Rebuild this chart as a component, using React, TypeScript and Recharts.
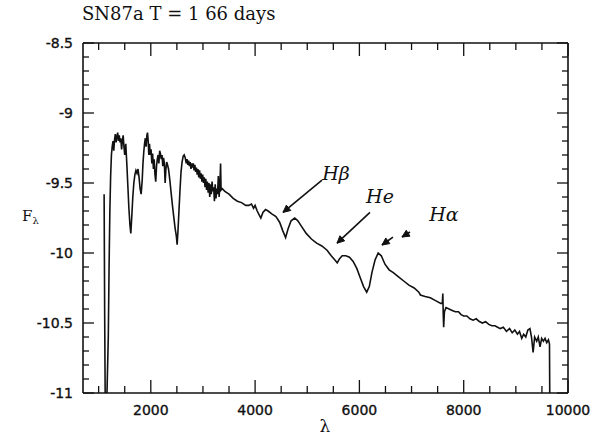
import React from "react";
import { LineChart, Line, XAxis, YAxis, ReferenceLine, ReferenceDot } from "recharts";

// wavelength (Angstrom) and log flux
const WAVELENGTH = [
  1105, 1115, 1125, 1160, 1185, 1200, 1215, 1230, 1245, 1260, 1275, 1290, 1305, 1320, 1335, 1350,
  1365, 1380, 1395, 1410, 1425, 1440, 1455, 1470, 1485, 1500, 1520, 1540, 1560, 1580, 1600, 1617,
  1635, 1655, 1675, 1695, 1715, 1735, 1755, 1775, 1795, 1815, 1835, 1850, 1865, 1880, 1895, 1910,
  1925, 1937, 1950, 1962, 1975, 1990, 2005, 2020, 2035, 2050, 2065, 2080, 2095, 2110, 2125, 2140,
  2155, 2170, 2185, 2200, 2215, 2230, 2245, 2260, 2275, 2290, 2305, 2320, 2340, 2365, 2390, 2415,
  2440, 2465, 2490, 2505, 2520, 2540, 2560, 2580, 2600, 2620, 2640, 2660, 2680, 2695, 2710, 2725,
  2740, 2755, 2770, 2785, 2800, 2815, 2830, 2845, 2860, 2875, 2890, 2905, 2920, 2935, 2950, 2965,
  2980, 2995, 3010, 3025, 3040, 3055, 3070, 3085, 3100, 3115, 3130, 3145, 3160, 3175, 3190, 3205,
  3220, 3235, 3250, 3265, 3280, 3295, 3310, 3325, 3338, 3348, 3370, 3420, 3500, 3580, 3660, 3740,
  3820, 3880, 3930, 3970, 4000, 4040, 4080, 4110, 4150, 4200, 4250, 4320, 4400, 4470, 4530, 4585,
  4630, 4690, 4760, 4820, 4890, 4980, 5080, 5180, 5280, 5380, 5460, 5530, 5575, 5620, 5670, 5740,
  5810, 5880, 5950, 6020, 6080, 6140, 6190, 6240, 6300, 6360, 6420, 6490, 6570, 6650, 6750, 6850,
  6950, 7050, 7140, 7170, 7260, 7360, 7460, 7560, 7590, 7600, 7608, 7616, 7630, 7660, 7720, 7780,
  7840, 7900, 7950, 8000, 8060, 8120, 8180, 8240, 8300, 8360, 8420, 8480, 8540, 8600, 8650, 8700,
  8760, 8820, 8880, 8930, 8980, 9030, 9070, 9113, 9150, 9190, 9230, 9270, 9300, 9331, 9360, 9400,
  9430, 9464, 9495, 9528, 9560, 9592, 9625, 9645, 9650,
];

const FLUX = [
  -9.58, -10.4, -11.0, -11.0, -10.6, -10.1, -9.7, -9.45, -9.3, -9.24, -9.2, -9.27, -9.19, -9.15, -9.21, -9.17,
  -9.14, -9.2, -9.16, -9.21, -9.18, -9.26, -9.2, -9.16, -9.24, -9.3, -9.22, -9.36, -9.52, -9.68, -9.8, -9.86,
  -9.74, -9.6, -9.5, -9.44, -9.41, -9.43, -9.4, -9.46, -9.54, -9.58, -9.48, -9.36, -9.28, -9.22, -9.18, -9.24,
  -9.16, -9.14, -9.2, -9.3, -9.22, -9.3, -9.26, -9.36, -9.29, -9.4, -9.33, -9.44, -9.49, -9.38, -9.33, -9.3,
  -9.36, -9.27, -9.29, -9.33, -9.3, -9.38, -9.32, -9.36, -9.5, -9.4, -9.35, -9.37, -9.4, -9.48, -9.57, -9.66,
  -9.74, -9.82, -9.88, -9.94, -9.85, -9.7, -9.55, -9.42, -9.35, -9.31, -9.3, -9.32, -9.36, -9.33, -9.37, -9.34,
  -9.38, -9.35, -9.4, -9.36, -9.39, -9.36, -9.41, -9.37, -9.42, -9.39, -9.44, -9.4, -9.46, -9.41, -9.47, -9.43,
  -9.49, -9.44, -9.5, -9.46, -9.53, -9.47, -9.55, -9.49, -9.57, -9.5, -9.6, -9.51, -9.58, -9.49, -9.56, -9.53,
  -9.63, -9.51, -9.61, -9.54, -9.58, -9.45, -9.6, -9.52, -9.36, -9.55, -9.54, -9.56, -9.58, -9.61, -9.63, -9.64,
  -9.66, -9.66, -9.65, -9.68, -9.66, -9.7, -9.73, -9.75, -9.71, -9.69, -9.7, -9.72, -9.74, -9.78, -9.84, -9.89,
  -9.83, -9.77, -9.75, -9.77, -9.81, -9.86, -9.9, -9.93, -9.95, -9.98, -10.02, -10.05, -10.07, -10.04, -10.02, -10.02,
  -10.03, -10.06, -10.11, -10.18, -10.24, -10.28, -10.24, -10.14, -10.05, -10.0, -10.02, -10.08, -10.12, -10.14, -10.17, -10.2,
  -10.23, -10.25, -10.28, -10.3, -10.31, -10.32, -10.34, -10.36, -10.36, -10.29, -10.44, -10.53, -10.42, -10.39, -10.4, -10.41,
  -10.42, -10.42, -10.44, -10.45, -10.45, -10.47, -10.48, -10.47, -10.49, -10.5, -10.49, -10.51, -10.52, -10.52, -10.53, -10.54,
  -10.53, -10.56, -10.54, -10.57, -10.55, -10.58, -10.56, -10.61, -10.58, -10.6, -10.55, -10.54, -10.6, -10.71, -10.6, -10.63,
  -10.6, -10.67, -10.61, -10.63, -10.61, -10.64, -10.62, -10.65, -11.0,
];

const X_TICKS = [1000, 1500, 2000, 2500, 3000, 3500, 4000, 4500, 5000, 5500, 6000, 6500, 7000, 7500, 8000, 8500, 9000, 9500, 10000];
const X_LABELS = [2000, 4000, 6000, 8000, 10000];
const Y_TICKS = [
  -11, -10.9, -10.8, -10.7, -10.6, -10.5, -10.4, -10.3, -10.2, -10.1, -10, -9.9, -9.8, -9.7, -9.6, -9.5,
  -9.4, -9.3, -9.2, -9.1, -9, -8.9, -8.8, -8.7, -8.6, -8.5,
];

const NOTES = [
  { text: "Hβ", x: 5551, y: -9.43 },
  { text: "He", x: 6395, y: -9.59 },
  { text: "Hα", x: 7622, y: -9.72 },
];
const ARROWS = [
  { x1: 5283, y1: -9.48, x2: 4535, y2: -9.71 },
  { x1: 6203, y1: -9.71, x2: 5571, y2: -9.93 },
  { x1: 6644, y1: -9.886, x2: 6433, y2: -9.943 },
  { x1: 6970, y1: -9.85, x2: 6817, y2: -9.886 },
];

const data = WAVELENGTH.map((w, i) => ({ wl: w, flux: FLUX[i] }));

const INK = "#111";
const tickFont = { fontFamily: "DejaVu Sans", fontSize: 14, fill: INK, stroke: INK, strokeWidth: 0.35 };

const isYMajor = (v: number) => Math.abs(v * 2 - Math.round(v * 2)) < 1e-6;

const BottomTick = (props: any) => {
  const { x, y, payload } = props;
  const major = X_LABELS.includes(payload.value);
  return (
    <g>
      <line x1={x} y1={y} x2={x} y2={y - (major ? 13 : 7)} stroke={INK} strokeWidth={1.3} />
      {major && (
        <text x={x} y={y + 22} textAnchor="middle" {...tickFont}>
          {payload.value}
        </text>
      )}
    </g>
  );
};

const TopTick = (props: any) => {
  const { x, y, payload } = props;
  const major = X_LABELS.includes(payload.value);
  return <line x1={x} y1={y} x2={x} y2={y + (major ? 13 : 7)} stroke={INK} strokeWidth={1.3} />;
};

const LeftTick = (props: any) => {
  const { x, y, payload } = props;
  const major = isYMajor(payload.value);
  return (
    <g>
      <line x1={x} y1={y} x2={x + (major ? 11 : 6)} y2={y} stroke={INK} strokeWidth={1.3} />
      {major && (
        <text x={x - 10} y={y + 5} textAnchor="end" {...tickFont}>
          {payload.value}
        </text>
      )}
    </g>
  );
};

const RightTick = (props: any) => {
  const { x, y, payload } = props;
  const major = isYMajor(payload.value);
  return <line x1={x} y1={y} x2={x - (major ? 11 : 6)} y2={y} stroke={INK} strokeWidth={1.3} />;
};

const Arrow = (props: any) => {
  const { x1, y1, x2, y2 } = props;
  const a = Math.atan2(y2 - y1, x2 - x1);
  const h = 8;
  const p1 = [x2 - h * Math.cos(a - 0.45), y2 - h * Math.sin(a - 0.45)];
  const p2 = [x2 - h * Math.cos(a + 0.45), y2 - h * Math.sin(a + 0.45)];
  return (
    <g>
      <line x1={x1} y1={y1} x2={x2} y2={y2} stroke={INK} strokeWidth={1.6} />
      <path d={`M${p1[0]},${p1[1]} L${x2},${y2} L${p2[0]},${p2[1]} Z`} fill={INK} stroke={INK} strokeWidth={1} />
    </g>
  );
};

const noteShape = (text: string) => (p: any) => (
  <text
    x={p.cx}
    y={p.cy}
    textAnchor="middle"
    dominantBaseline="central"
    fontFamily="DejaVu Serif"
    fontStyle="italic"
    fontSize={19}
    fill={INK}
  >
    {text}
  </text>
);

export default function App() {
  return (
    <div style={{ position: "absolute", left: 0, top: 0, width: 591, height: 437, background: "#fff" }}>
      <LineChart width={591} height={437} data={data} margin={{ top: 42, right: 22, bottom: 14, left: 23 }}>
        <XAxis
          dataKey="wl"
          type="number"
          domain={[700, 10000]}
          ticks={X_TICKS}
          interval={0}
          allowDataOverflow
          height={30}
          tickSize={0}
          tickMargin={0}
          tickLine={false}
          tick={<BottomTick />}
          axisLine={{ stroke: INK, strokeWidth: 1.6 }}
        />
        <XAxis
          xAxisId="top"
          orientation="top"
          dataKey="wl"
          type="number"
          domain={[700, 10000]}
          ticks={X_TICKS}
          interval={0}
          allowDataOverflow
          height={1}
          tickSize={0}
          tickMargin={0}
          tickLine={false}
          tick={<TopTick />}
          axisLine={{ stroke: INK, strokeWidth: 1.6 }}
        />
        <YAxis
          type="number"
          domain={[-11, -8.5]}
          ticks={Y_TICKS}
          interval={0}
          allowDataOverflow
          width={60}
          tickSize={0}
          tickMargin={0}
          tickLine={false}
          tick={<LeftTick />}
          axisLine={{ stroke: INK, strokeWidth: 1.6 }}
        />
        <YAxis
          yAxisId="right"
          orientation="right"
          type="number"
          domain={[-11, -8.5]}
          ticks={Y_TICKS}
          interval={0}
          allowDataOverflow
          width={1}
          tickSize={0}
          tickMargin={0}
          tickLine={false}
          tick={<RightTick />}
          axisLine={{ stroke: INK, strokeWidth: 1.6 }}
        />
        <Line
          dataKey="flux"
          type="linear"
          stroke={INK}
          strokeWidth={1.6}
          dot={false}
          activeDot={false}
          isAnimationActive={false}
        />
        {ARROWS.map((a, i) => (
          <ReferenceLine
            key={`arrow-${i}`}
            segment={[
              { x: a.x1, y: a.y1 },
              { x: a.x2, y: a.y2 },
            ]}
            shape={<Arrow />}
          />
        ))}
        {NOTES.map((n) => (
          <ReferenceDot key={n.text} x={n.x} y={n.y} r={0} shape={noteShape(n.text)} />
        ))}
      </LineChart>
      <svg
        width={591}
        height={437}
        style={{ position: "absolute", left: 0, top: 0, pointerEvents: "none" }}
      >
        <text x={82} y={20} fontFamily="DejaVu Serif" fontSize={18} fill={INK}>
          SN87a T = 1 66 days
        </text>
        <text x={22} y={221} fontFamily="DejaVu Serif" fontSize={15} fill={INK}>
          F
          <tspan fontSize={10} dy={3}>
            λ
          </tspan>
        </text>
        <text x={325} y={432} textAnchor="middle" fontFamily="DejaVu Serif" fontSize={17} fill={INK}>
          λ
        </text>
      </svg>
    </div>
  );
}
